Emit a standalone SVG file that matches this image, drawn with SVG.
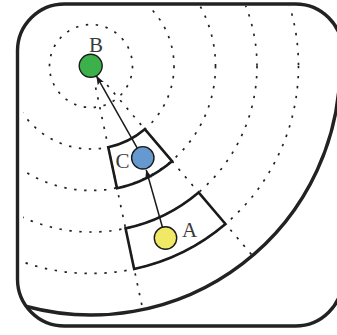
<svg xmlns="http://www.w3.org/2000/svg" width="337" height="335" viewBox="0 0 337 335">
  <style>
    .dot { fill: none; stroke: #222; stroke-width: 1.7; stroke-dasharray: 2.4 7.6; }
    .frame { fill: none; stroke: #222; stroke-width: 3.4; }
    .sector { fill: none; stroke: #1a1a1a; stroke-width: 2.6; stroke-linejoin: miter; }
    .arrow { fill: none; stroke: #1a1a1a; stroke-width: 1.5; marker-end: url(#head); }
    .node { stroke: #1a1a1a; stroke-width: 1.4; }
    .label { font-family: "Liberation Serif", "Times New Roman", serif; font-size: 21px; fill: #3a3a3a; text-anchor: middle; }
  </style>
  <defs>
    <clipPath id="inner">
      <rect x="23" y="6" width="314" height="316" rx="42" ry="42"/>
    </clipPath>
    <clipPath id="frameClip">
      <rect x="17.5" y="4" width="325" height="322" rx="47" ry="47"/>
    </clipPath>
    <marker id="head" markerUnits="userSpaceOnUse" markerWidth="10" markerHeight="8" refX="9" refY="3.5" orient="auto">
      <path d="M0,0 L9,3.5 L0,7 L2,3.5 Z" fill="#1a1a1a"/>
    </marker>
  </defs>

  <g id="background">
    <g id="rings" clip-path="url(#inner)">
      <circle class="dot" cx="91" cy="66" r="41.5"/>
      <circle class="dot" cx="91" cy="66" r="83"/>
      <circle class="dot" cx="91" cy="66" r="124.5"/>
      <circle class="dot" cx="91" cy="66" r="166"/>
      <circle class="dot" cx="91" cy="66" r="207.5"/>
      <line class="dot" x1="95.6" y1="87.5" x2="142.8" y2="309.6"/>
      <line class="dot" x1="107.2" y1="85" x2="252.4" y2="255.6"/>
    </g>
    <path id="boundary" class="frame" clip-path="url(#frameClip)" d="M26.56,306.5 A249,249 0 0 0 340,66" stroke-width="2.7"/>
    <rect id="frame" class="frame" x="17.5" y="4" width="325" height="322" rx="47" ry="47"/>
  </g>

  <g id="sectorC">
    <path class="sector" d="M108.26,147.18 A83,83 0 0 0 144.79,129.2 L172.01,161.19 A125,125 0 0 1 116.99,188.26 Z"/>
  </g>
  <g id="sectorA">
    <path class="sector" d="M125.51,228.36 A166,166 0 0 0 198.58,192.41 L225.48,224.01 A207.5,207.5 0 0 1 134.14,268.96 Z"/>
  </g>

  <g id="connectors">
    <line class="arrow" x1="162.45" y1="227.22" x2="146.2" y2="169.8"/>
    <line class="arrow" x1="137.28" y1="148.05" x2="96.37" y2="75.81"/>
  </g>

  <g id="nodeB">
    <circle class="node" cx="90.7" cy="65.8" r="11.5" fill="#3cb14b"/>
    <text class="label" x="96" y="51.5">B</text>
  </g>
  <g id="nodeC">
    <circle class="node" cx="142.8" cy="157.8" r="11.2" fill="#6699cf"/>
    <text class="label" x="122.5" y="168">C</text>
  </g>
  <g id="nodeA">
    <circle class="node" cx="165.5" cy="238" r="11.2" fill="#f1e966"/>
    <text class="label" x="189.5" y="237">A</text>
  </g>
</svg>
